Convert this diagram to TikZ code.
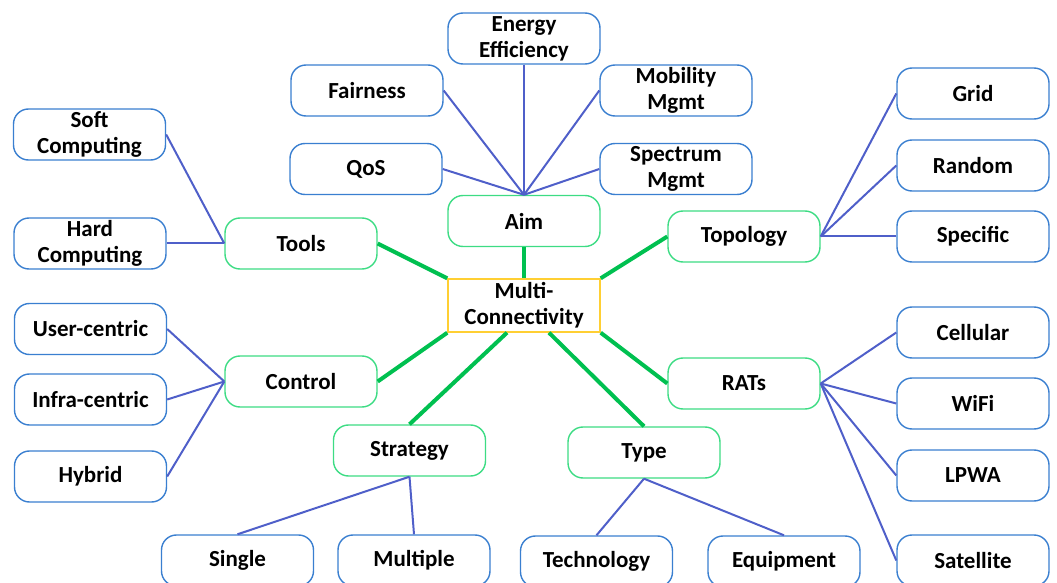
\documentclass[tikz,border=0pt]{standalone}
\usepackage{fontspec}
\setmainfont{Carlito}
\usetikzlibrary{calc}

\definecolor{lineblue}{HTML}{4F5FC9}
\definecolor{boxblue}{HTML}{3A7FD0}
\definecolor{boxgreen}{HTML}{3DDC84}
\definecolor{linegreen}{HTML}{00C050}
\definecolor{boxyellow}{HTML}{FFCF33}

\tikzset{
  box/.style={rounded corners=7.5pt, minimum width=76pt, minimum height=25.5pt,
    align=center, inner sep=1pt, line width=0.7pt, fill=white,
    font=\bfseries\fontsize{11.5}{13}\selectfont},
  leaf/.style={box, draw=boxblue},
  topic/.style={box, draw=boxgreen},
  hub/.style={box, draw=boxyellow, rounded corners=0pt, minimum height=26.5pt},
  twig/.style={draw=lineblue, line width=1pt},
  trunk/.style={draw=linegreen, line width=2pt}
}

\begin{document}
\begin{tikzpicture}[x=0.5pt,y=-0.5pt]
  \useasboundingbox (0,0) rectangle (1057,583);
  % centre and topics
  \node[hub] (mc) at (524,305.5) {Multi-\\Connectivity};
  \node[topic] (aim) at (524,221) {Aim};
  \node[topic] (tools) at (301,243.5) {Tools};
  \node[topic] (topology) at (744,236.5) {Topology};
  \node[topic] (control) at (301,381.5) {Control};
  \node[topic] (rats) at (744,383.5) {RATs};
  \node[topic] (strategy) at (409.5,450.5) {Strategy};
  \node[topic] (type) at (644,452.5) {Type};
  % aims
  \node[leaf] (energy) at (524,38.5) {Energy\\Efficiency};
  \node[leaf] (fair) at (367,90.5) {Fairness};
  \node[leaf] (qos) at (366,169) {QoS};
  \node[leaf] (mobility) at (676,90.5) {Mobility\\Mgmt};
  \node[leaf] (spectrum) at (676,169) {Spectrum\\Mgmt};
  % tools
  \node[leaf] (soft) at (89.5,134.5) {Soft\\Computing};
  \node[leaf] (hard) at (90,243.5) {Hard\\Computing};
  % control
  \node[leaf] (user) at (90.5,329) {User-centric};
  \node[leaf] (infra) at (90.5,399.5) {Infra-centric};
  \node[leaf] (hybrid) at (90.5,476.5) {Hybrid};
  % topology
  \node[leaf] (grid) at (973,93.5) {Grid};
  \node[leaf] (random) at (973,165.5) {Random};
  \node[leaf] (specific) at (973,236.5) {Specific};
  % rats
  \node[leaf] (cellular) at (973,332.5) {Cellular};
  \node[leaf] (wifi) at (973,403.5) {WiFi};
  \node[leaf] (lpwa) at (973,475.5) {LPWA};
  \node[leaf] (satellite) at (973,560.5) {Satellite};
  % strategy and type
  \node[leaf] (single) at (237.5,560.5) {Single};
  \node[leaf] (multiple) at (414,560.5) {Multiple};
  \node[leaf] (tech) at (596.5,561.5) {Technology};
  \node[leaf] (equip) at (784,561.5) {Equipment};

  % green links
  \draw[trunk] (aim) -- (mc);
  \draw[trunk] (tools.east) -- (mc.north west);
  \draw[trunk] (topology.west) -- (mc.north east);
  \draw[trunk] (control.east) -- (mc.south west);
  \draw[trunk] (rats.west) -- (mc.south east);
  \draw[trunk] (strategy.north) -- ($(mc.south)+(-17,0)$);
  \draw[trunk] (type.north) -- ($(mc.south)+(25,0)$);

  % blue links
  \foreach \n in {fair,qos}
    \draw[twig] (\n.east) -- (aim.north);
  \foreach \n in {mobility,spectrum}
    \draw[twig] (\n.west) -- (aim.north);
  \draw[twig] (energy.south) -- (aim.north);
  \foreach \n in {soft,hard}
    \draw[twig] (\n.east) -- (tools.west);
  \foreach \n in {user,infra,hybrid}
    \draw[twig] (\n.east) -- (control.west);
  \foreach \n in {grid,random,specific}
    \draw[twig] (\n.west) -- (topology.east);
  \foreach \n in {cellular,wifi,lpwa,satellite}
    \draw[twig] (\n.west) -- (rats.east);
  \foreach \n in {single,multiple}
    \draw[twig] (\n.north) -- (strategy.south);
  \foreach \n in {tech,equip}
    \draw[twig] (\n.north) -- (type.south);
\end{tikzpicture}
\end{document}
